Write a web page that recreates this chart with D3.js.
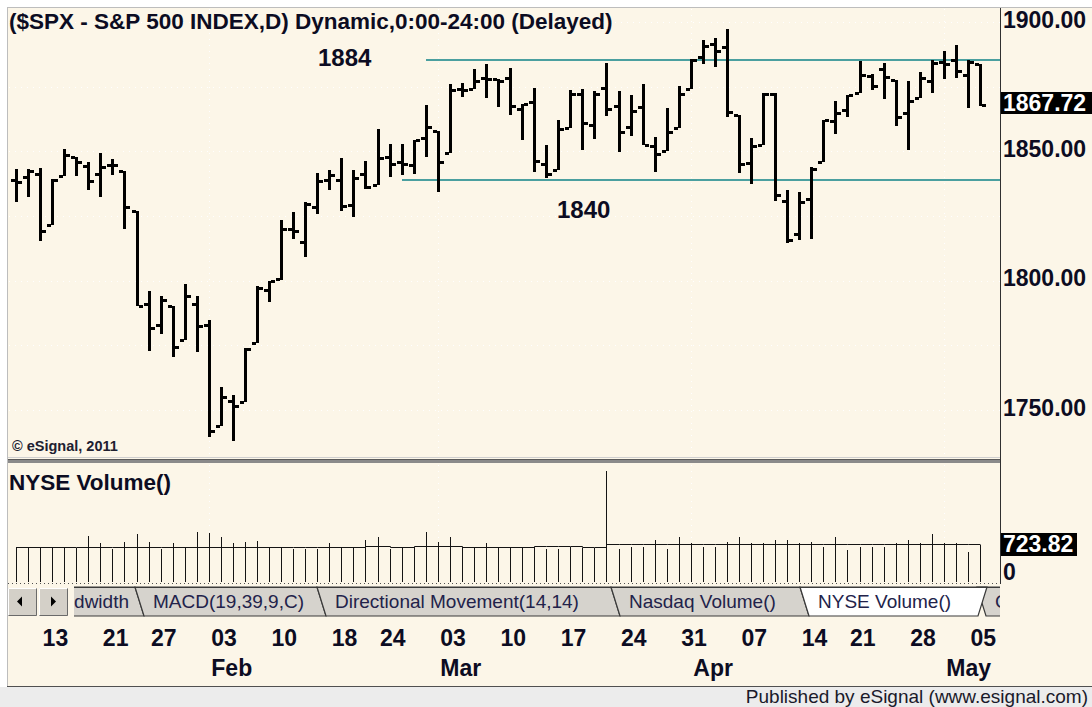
<!DOCTYPE html>
<html>
<head>
<meta charset="utf-8">
<title>$SPX daily bars</title>
<script src="https://cdn.jsdelivr.net/npm/d3@7/dist/d3.min.js"></script>
<style>
  html, body { margin: 0; padding: 0; background: #ffffff; }
  #chart svg { display: block; }
</style>
</head>
<body>
<div id="chart"></div>
<script>
// daily bars
const dates = [
  "2014-01-09", "2014-01-10", "2014-01-13", "2014-01-14", "2014-01-15", "2014-01-16", "2014-01-17",
  "2014-01-21", "2014-01-22", "2014-01-23", "2014-01-24", "2014-01-27", "2014-01-28", "2014-01-29",
  "2014-01-30", "2014-01-31", "2014-02-03", "2014-02-04", "2014-02-05", "2014-02-06", "2014-02-07",
  "2014-02-10", "2014-02-11", "2014-02-12", "2014-02-13", "2014-02-14", "2014-02-18", "2014-02-19",
  "2014-02-20", "2014-02-21", "2014-02-24", "2014-02-25", "2014-02-26", "2014-02-27", "2014-02-28",
  "2014-03-03", "2014-03-04", "2014-03-05", "2014-03-06", "2014-03-07", "2014-03-10", "2014-03-11",
  "2014-03-12", "2014-03-13", "2014-03-14", "2014-03-17", "2014-03-18", "2014-03-19", "2014-03-20",
  "2014-03-21", "2014-03-24", "2014-03-25", "2014-03-26", "2014-03-27", "2014-03-28", "2014-03-31",
  "2014-04-01", "2014-04-02", "2014-04-03", "2014-04-04", "2014-04-07", "2014-04-08", "2014-04-09",
  "2014-04-10", "2014-04-11", "2014-04-14", "2014-04-15", "2014-04-16", "2014-04-17", "2014-04-21",
  "2014-04-22", "2014-04-23", "2014-04-24", "2014-04-25", "2014-04-28", "2014-04-29", "2014-04-30",
  "2014-05-01", "2014-05-02", "2014-05-05", "2014-05-06"
];
const opens = [
  1839.0, 1840.1, 1841.3, 1821.4, 1840.5, 1848.0, 1844.2, 1841.1, 1844.7, 1842.3, 1827.0, 1791.0,
  1783.0, 1790.2, 1777.2, 1790.9, 1782.7, 1743.8, 1753.4, 1753.0, 1776.0, 1796.2, 1800.5, 1820.1,
  1814.8, 1828.5, 1839.0, 1838.9, 1829.2, 1841.1, 1836.8, 1847.7, 1845.8, 1844.9, 1855.1, 1857.7,
  1849.2, 1874.1, 1874.2, 1878.5, 1877.9, 1878.3, 1866.2, 1869.1, 1845.1, 1842.8, 1858.9, 1872.3,
  1860.1, 1874.5, 1867.7, 1859.5, 1867.1, 1852.1, 1850.1, 1859.2, 1874.0, 1886.6, 1891.4, 1890.3,
  1863.9, 1845.5, 1852.6, 1872.3, 1830.7, 1818.2, 1831.5, 1846.0, 1861.7, 1865.8, 1872.6, 1879.3,
  1882.0, 1877.7, 1865.0, 1870.8, 1877.1, 1884.4, 1885.3, 1879.5, 1883.7
];
const highs = [
  1843.2, 1843.2, 1843.5, 1839.3, 1850.8, 1848.0, 1846.0, 1849.3, 1846.9, 1842.3, 1827.0, 1796.0,
  1793.9, 1790.2, 1798.8, 1793.9, 1784.8, 1758.7, 1755.8, 1774.1, 1798.0, 1799.9, 1823.5, 1826.6,
  1830.3, 1841.7, 1842.9, 1847.5, 1842.8, 1846.1, 1858.7, 1852.9, 1852.7, 1854.5, 1867.9, 1857.7,
  1876.2, 1876.5, 1881.9, 1883.6, 1877.9, 1882.4, 1868.4, 1874.4, 1852.4, 1862.3, 1873.8, 1874.1,
  1873.5, 1884.0, 1873.3, 1871.9, 1875.9, 1855.6, 1866.6, 1875.2, 1885.8, 1893.2, 1893.8, 1897.3,
  1864.0, 1855.0, 1872.4, 1872.5, 1835.1, 1834.2, 1844.0, 1862.3, 1869.6, 1871.9, 1884.9, 1879.8,
  1884.1, 1877.7, 1877.0, 1880.6, 1885.2, 1888.6, 1891.3, 1885.5, 1883.7
];
const lows = [
  1830.4, 1832.4, 1815.5, 1821.4, 1840.5, 1840.3, 1835.2, 1832.4, 1840.9, 1820.1, 1790.3, 1772.9,
  1779.5, 1770.5, 1777.2, 1772.3, 1739.7, 1743.8, 1737.9, 1753.0, 1776.0, 1791.8, 1800.4, 1816.0,
  1809.2, 1825.6, 1835.0, 1827.0, 1824.6, 1835.6, 1836.8, 1840.2, 1840.7, 1841.1, 1847.7, 1834.4,
  1849.2, 1871.1, 1874.2, 1870.6, 1867.0, 1863.9, 1854.4, 1841.9, 1839.6, 1842.8, 1858.9, 1850.4,
  1854.6, 1863.5, 1849.7, 1856.0, 1852.6, 1842.1, 1850.1, 1859.2, 1874.0, 1883.8, 1882.7, 1863.3,
  1841.5, 1837.5, 1852.4, 1830.9, 1814.4, 1815.8, 1816.3, 1846.0, 1856.7, 1863.2, 1872.6, 1873.9,
  1870.2, 1859.7, 1850.6, 1870.8, 1872.7, 1878.0, 1878.5, 1866.8, 1867.7
];
const closes = [
  1838.1, 1842.4, 1819.2, 1838.9, 1848.4, 1845.9, 1838.7, 1843.8, 1844.9, 1828.5, 1790.3, 1781.6,
  1792.5, 1774.2, 1794.2, 1782.6, 1741.9, 1755.2, 1751.6, 1773.4, 1797.0, 1799.8, 1819.8, 1819.3,
  1829.8, 1838.6, 1840.8, 1828.8, 1839.8, 1836.3, 1847.6, 1845.1, 1845.2, 1854.3, 1859.5, 1845.7,
  1873.9, 1873.8, 1877.0, 1878.0, 1877.2, 1867.6, 1868.2, 1846.3, 1841.1, 1858.8, 1872.3, 1860.8,
  1872.0, 1866.5, 1857.4, 1865.6, 1852.6, 1849.0, 1857.6, 1872.3, 1885.5, 1890.9, 1888.8, 1865.1,
  1845.0, 1852.0, 1872.2, 1833.1, 1815.7, 1830.6, 1843.0, 1862.3, 1864.9, 1871.9, 1879.6, 1875.4,
  1878.6, 1863.4, 1869.4, 1878.3, 1884.0, 1883.7, 1881.1, 1884.7, 1867.72
];
// NYSE volume (millions) and the flat level line drawn across the bars
const volumes = [
  679, 679, 690, 679, 685, 675, 900, 757, 640, 789, 939, 789, 640, 757, 679, 984, 953, 875, 757, 789,
  808, 679, 679, 640, 640, 640, 757, 679, 679, 822, 875, 640, 679, 679, 984, 789, 875, 679, 679, 757,
  679, 679, 679, 679, 640, 640, 679, 660, 660, 2170, 640, 679, 679, 822, 640, 875, 757, 679, 679, 789,
  875, 757, 757, 822, 822, 757, 789, 679, 875, 626, 679, 679, 679, 757, 822, 757, 939, 757, 757, 593,
  723.82
];
const volumeLevel = [
  679, 679, 679, 679, 679, 679, 679, 679, 679, 679, 679, 679, 679, 679, 679, 679, 679, 679, 679, 679,
  679, 679, 679, 679, 679, 679, 679, 679, 679, 700, 700, 679, 679, 700, 700, 700, 700, 679, 679, 679,
  679, 679, 679, 700, 700, 700, 700, 690, 690, 735, 735, 735, 735, 735, 735, 735, 735, 735, 735, 735,
  735, 735, 735, 735, 735, 735, 735, 735, 735, 735, 735, 735, 735, 735, 735, 735, 735, 735, 735, 735,
  735
];
const dayTicks = [
  "2014-01-13", "2014-01-21", "2014-01-27", "2014-02-03", "2014-02-10", "2014-02-18", "2014-02-24",
  "2014-03-03", "2014-03-10", "2014-03-17", "2014-03-24", "2014-03-31", "2014-04-07", "2014-04-14",
  "2014-04-21", "2014-04-28", "2014-05-05"
];
const monthTicks = ["2014-02-03", "2014-03-03", "2014-04-01", "2014-05-01"];
const monthNames = ["Feb", "Mar", "Apr", "May"];
const priceTicks = [1750, 1800, 1850, 1900];
const priceGrid = [1750, 1775, 1800, 1825, 1850, 1875, 1900];
const levelValues = [1885.3, 1838.9];
const levelNames = ["1884", "1840"];
const levelStarts = ["2014-02-28", "2014-02-26"];
const tabNames = ["Bandwidth", "MACD(19,39,9,C)", "Directional Movement(14,14)", "Nasdaq Volume()", "NYSE Volume()", "Comm"];
const activeTab = "NYSE Volume()";

(function () {
  const width = 1092;
  const height = 707;
  const cream = "#fcf6e8";
  const ink = "#0c0c22";
  const font = '"Liberation Sans", Arial, sans-serif';
  const paneRight = 1000;

  const bars = dates.map((date, i) => ({
    date,
    open: opens[i],
    high: highs[i],
    low: lows[i],
    close: closes[i],
    volume: volumes[i],
    level: volumeLevel[i]
  }));
  const last = bars[bars.length - 1];

  const x = d3.scalePoint().domain(dates).range([16, 980]);
  const y = d3.scaleLinear().domain([1750, 1900]).range([410, 22]);
  const yVolume = d3.scaleLinear().domain([0, 2300]).range([582, 464.5]);
  const px = (date) => Math.round(x(date));
  const py = (value) => Math.round(y(value));

  const svg = d3.select("#chart")
    .append("svg")
    .attr("width", width)
    .attr("height", height)
    .attr("font-family", font);

  // frame
  svg.append("rect").attr("width", width).attr("height", height).attr("fill", "#ffffff");
  svg.append("rect").attr("x", 8).attr("y", 8).attr("width", width - 8).attr("height", 678).attr("fill", cream);
  svg.append("rect").attr("x", 0).attr("y", 687).attr("width", width).attr("height", 20).attr("fill", "#ececec");
  svg.append("line").attr("x1", 7).attr("x2", width).attr("y1", 686.5).attr("y2", 686.5).attr("stroke", "#505050");
  svg.append("line").attr("x1", 7).attr("x2", width).attr("y1", 7.5).attr("y2", 7.5).attr("stroke", "#bdbdbd");
  svg.append("line").attr("x1", 7.5).attr("x2", 7.5).attr("y1", 7).attr("y2", 686).attr("stroke", "#bdbdbd");

  // dotted grid
  const grid = svg.append("g")
    .attr("stroke", "#ffffff")
    .attr("stroke-dasharray", "1,5");

  grid.selectAll("line.h")
    .data(priceGrid)
    .join("line")
    .attr("class", "h")
    .attr("x1", 9)
    .attr("x2", paneRight)
    .attr("y1", (d) => py(d) + 0.5)
    .attr("y2", (d) => py(d) + 0.5);

  grid.selectAll("line.v")
    .data(monthTicks)
    .join("line")
    .attr("class", "v")
    .attr("x1", (d) => px(d) + 0.5)
    .attr("x2", (d) => px(d) + 0.5)
    .attr("y1", 9)
    .attr("y2", 580);

  // support / resistance lines
  svg.append("g")
    .selectAll("line")
    .data(levelValues)
    .join("line")
    .attr("x1", (d, i) => px(levelStarts[i]))
    .attr("x2", paneRight)
    .attr("y1", (d) => py(d))
    .attr("y2", (d) => py(d))
    .attr("stroke", "#4a9f9f")
    .attr("stroke-width", 2);

  svg.append("g")
    .selectAll("text")
    .data(levelNames)
    .join("text")
    .attr("x", (d, i) => (i === 0 ? 318 : 557))
    .attr("y", (d, i) => (i === 0 ? 66 : 218))
    .attr("font-size", 24)
    .attr("font-weight", "bold")
    .attr("fill", ink)
    .text((d) => d);

  // OHLC bars
  const barLayer = svg.append("g").attr("fill", "#000000");

  barLayer.selectAll("rect.stem")
    .data(bars)
    .join("rect")
    .attr("class", "stem")
    .attr("x", (d) => px(d.date) - 1)
    .attr("y", (d) => py(d.high))
    .attr("width", 3)
    .attr("height", (d) => Math.max(3, py(d.low) - py(d.high)));

  barLayer.selectAll("rect.open")
    .data(bars)
    .join("rect")
    .attr("class", "open")
    .attr("x", (d) => px(d.date) - 5)
    .attr("y", (d) => py(d.open) - 1)
    .attr("width", 4)
    .attr("height", 3);

  barLayer.selectAll("rect.close")
    .data(bars)
    .join("rect")
    .attr("class", "close")
    .attr("x", (d) => px(d.date) + 2)
    .attr("y", (d) => py(d.close) - 1)
    .attr("width", 4)
    .attr("height", 3);

  svg.append("text")
    .attr("x", 9)
    .attr("y", 29)
    .attr("font-size", 22.5)
    .attr("font-weight", "bold")
    .attr("fill", ink)
    .text("($SPX - S&P 500 INDEX,D) Dynamic,0:00-24:00 (Delayed)");

  svg.append("text")
    .attr("x", 12)
    .attr("y", 451)
    .attr("font-size", 14.5)
    .attr("font-weight", "bold")
    .attr("fill", "#202030")
    .text("\u00a9 eSignal, 2011");

  // pane separator and price axis
  svg.append("line").attr("x1", 8).attr("x2", paneRight).attr("y1", 457.5).attr("y2", 457.5).attr("stroke", "#cfcfcf");
  svg.append("rect").attr("x", 8).attr("y", 459).attr("width", paneRight - 8).attr("height", 4).attr("fill", "#8a8a8a");
  svg.append("line").attr("x1", 8).attr("x2", paneRight).attr("y1", 459.5).attr("y2", 459.5).attr("stroke", "#5a5a5a");
  svg.append("line").attr("x1", paneRight + 0.5).attr("x2", paneRight + 0.5).attr("y1", 8).attr("y2", 584).attr("stroke", "#303030");

  const priceAxis = svg.append("g")
    .attr("transform", `translate(${paneRight},0)`)
    .call(d3.axisRight(y).tickValues(priceTicks).tickFormat(d3.format(".2f")).tickSize(0).tickPadding(3))
    .call((g) => g.select(".domain").remove());

  priceAxis.selectAll("text")
    .attr("dy", 5)
    .attr("font-family", font)
    .attr("font-size", 23)
    .attr("font-weight", "bold")
    .attr("fill", ink);

  const lastY = py(last.close);
  svg.append("rect").attr("x", paneRight + 1).attr("y", lastY - 13).attr("width", width - paneRight - 1).attr("height", 22).attr("fill", "#000000");
  svg.append("text")
    .attr("x", paneRight + 3)
    .attr("y", lastY + 6)
    .attr("font-size", 23)
    .attr("font-weight", "bold")
    .attr("fill", "#ffffff")
    .text(d3.format(".2f")(last.close));

  // volume pane
  svg.append("text")
    .attr("x", 9)
    .attr("y", 490)
    .attr("font-size", 22.5)
    .attr("font-weight", "bold")
    .attr("fill", ink)
    .text("NYSE Volume()");

  svg.append("g")
    .attr("stroke", "#141414")
    .selectAll("line")
    .data(bars)
    .join("line")
    .attr("x1", (d) => px(d.date) + 0.5)
    .attr("x2", (d) => px(d.date) + 0.5)
    .attr("y1", yVolume(0))
    .attr("y2", (d) => Math.round(yVolume(d.volume)));

  const levelLine = d3.line()
    .x((d) => px(d.date) + 0.5)
    .y((d) => Math.round(yVolume(d.level)) + 0.5)
    .curve(d3.curveStepAfter);

  svg.append("path")
    .datum(bars)
    .attr("d", levelLine)
    .attr("fill", "none")
    .attr("stroke", "#141414");

  const volY = Math.round(yVolume(last.volume));
  svg.append("rect").attr("x", paneRight + 1).attr("y", volY - 12).attr("width", 76).attr("height", 23).attr("fill", "#000000");
  svg.append("text")
    .attr("x", paneRight + 3)
    .attr("y", volY + 7)
    .attr("font-size", 23)
    .attr("font-weight", "bold")
    .attr("fill", "#ffffff")
    .text(d3.format(".2f")(last.volume));
  svg.append("text")
    .attr("x", paneRight + 3)
    .attr("y", 580)
    .attr("font-size", 23)
    .attr("font-weight", "bold")
    .attr("fill", ink)
    .text("0");

  svg.append("line")
    .attr("x1", 8)
    .attr("x2", paneRight)
    .attr("y1", 583.5)
    .attr("y2", 583.5)
    .attr("stroke", "#505050")
    .attr("stroke-dasharray", "1,3");

  // sheet tabs
  const tabTop = 587;
  const tabBottom = 616;
  const slant = 9;
  const tabEdges = [30, 135, 317, 611, 800, 977, 1120];

  svg.append("clipPath").attr("id", "tab-clip")
    .append("rect").attr("x", 74).attr("y", tabTop - 1).attr("width", paneRight - 74).attr("height", tabBottom - tabTop + 3);

  const tabLayer = svg.append("g").attr("clip-path", "url(#tab-clip)");
  const tabs = tabNames.map((name, i) => ({ name, x0: tabEdges[i], x1: tabEdges[i + 1], active: name === activeTab }));

  function tabPoints(tab) {
    if (tab.active) {
      return [[tab.x0, tabTop], [tab.x1 + 10, tabTop], [tab.x1 + 10 - slant, tabBottom], [tab.x0 + slant, tabBottom]];
    }
    return [[tab.x0, tabTop], [tab.x1, tabTop], [tab.x1 + slant, tabBottom], [tab.x0 + slant, tabBottom]];
  }

  const tabOrder = tabs.filter((t) => !t.active).concat(tabs.filter((t) => t.active));
  const tabGroups = tabLayer.selectAll("g")
    .data(tabOrder)
    .join("g");

  tabGroups.append("polygon")
    .attr("points", (d) => tabPoints(d).join(" "))
    .attr("fill", (d) => (d.active ? "#ffffff" : "#d6d3cd"))
    .attr("stroke", "#3a3a3a")
    .attr("stroke-width", 1.2);

  tabGroups.append("text")
    .attr("x", (d) => (d.name === tabNames[0] ? d.x1 - 6 : d.x0 + 18))
    .attr("y", 608)
    .attr("text-anchor", (d) => (d.name === tabNames[0] ? "end" : "start"))
    .attr("font-size", 19)
    .attr("fill", "#22224a")
    .text((d) => d.name);

  tabLayer.append("line").attr("x1", 69).attr("x2", paneRight).attr("y1", tabTop + 0.5).attr("y2", tabTop + 0.5).attr("stroke", "#3a3a3a");

  // scroll buttons
  const buttons = svg.append("g").selectAll("g")
    .data([-1, 1])
    .join("g")
    .attr("transform", (d, i) => `translate(${8 + i * 31},588)`);

  buttons.append("rect").attr("width", 29).attr("height", 28).attr("fill", "#d4d0c8");
  buttons.append("path").attr("d", "M0.5,27.5 V0.5 H28.5").attr("fill", "none").attr("stroke", "#ffffff");
  buttons.append("path").attr("d", "M0.5,27.5 H28.5 V0.5").attr("fill", "none").attr("stroke", "#6a6a6a");
  buttons.append("path")
    .attr("d", (d) => (d < 0 ? "M9,13.5 L14,8.5 L14,18.5 Z" : "M12,8.5 L17,13.5 L12,18.5 Z"))
    .attr("fill", "#000000");

  // date axis
  const dayAxis = svg.append("g")
    .attr("transform", "translate(0,624)")
    .call(d3.axisBottom(x).tickValues(dayTicks).tickFormat((d) => d.slice(8)).tickSize(0).tickPadding(0))
    .call((g) => g.select(".domain").remove());

  dayAxis.selectAll("text")
    .attr("y", 22)
    .attr("dy", 0)
    .attr("dx", 2)
    .attr("text-anchor", "start")
    .attr("font-family", font)
    .attr("font-size", 23)
    .attr("font-weight", "bold")
    .attr("fill", ink);

  const monthAxis = svg.append("g")
    .attr("transform", "translate(0,654)")
    .call(d3.axisBottom(x).tickValues(monthTicks).tickFormat((d, i) => monthNames[i]).tickSize(0).tickPadding(0))
    .call((g) => g.select(".domain").remove());

  monthAxis.selectAll("text")
    .attr("y", 22)
    .attr("dy", 0)
    .attr("dx", 2)
    .attr("text-anchor", "start")
    .attr("font-family", font)
    .attr("font-size", 23)
    .attr("font-weight", "bold")
    .attr("fill", ink);

  svg.append("text")
    .attr("x", 1088)
    .attr("y", 703)
    .attr("text-anchor", "end")
    .attr("font-size", 19)
    .attr("fill", "#1a1a2a")
    .text("Published by eSignal (www.esignal.com)");
}());
</script>
</body>
</html>
